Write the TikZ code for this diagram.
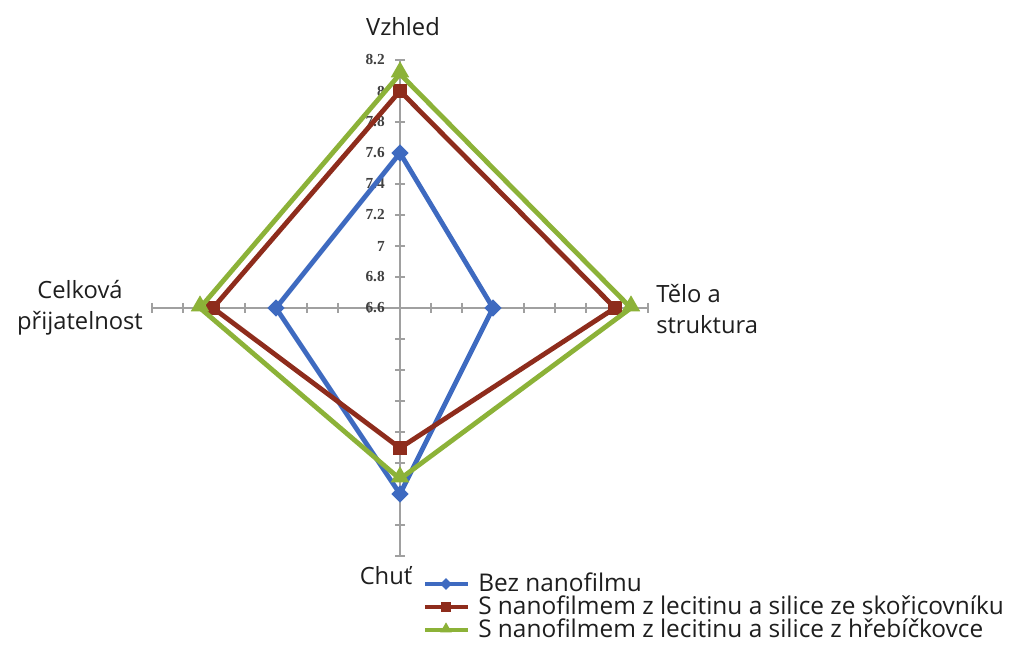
\documentclass[tikz,border=0pt]{standalone}
\usepackage{fontspec}
\setmainfont{Open Sans}
\newfontfamily\tickfont{Liberation Serif}
\usetikzlibrary{shapes.geometric,calc}
\definecolor{sblue}{RGB}{62,106,192}
\definecolor{sred}{RGB}{142,44,28}
\definecolor{sgreen}{RGB}{140,178,56}
\definecolor{axgray}{RGB}{160,160,160}
\definecolor{txt}{RGB}{30,30,30}
\tikzset{
  axisline/.style={draw=axgray, line width=1.6pt},
  tickmark/.style={draw=axgray, line width=1pt},
  ticklabel/.style={font=\tickfont\bfseries\fontsize{11.5}{13}\selectfont, text=black!75, anchor=east, inner sep=0pt},
  catlabel/.style={font=\fontsize{17.8}{23}\selectfont, text=txt, inner sep=0pt},
  series/.style={line width=3.6pt, line join=miter},
  bluemark/.style={diamond, fill=sblue, inner sep=0pt, minimum size=13pt},
  redmark/.style={rectangle, fill=sred, inner sep=0pt, minimum size=10pt},
  greenmark/.style={regular polygon, regular polygon sides=3, fill=sgreen, inner sep=0pt, minimum size=16pt},
  legtext/.style={font=\fontsize{18.3}{22}\selectfont, text=txt, anchor=west, inner sep=0pt},
  legline/.style={line width=3.6pt},
}
\begin{document}
\begin{tikzpicture}[x=0.75pt,y=-0.75pt]
\useasboundingbox (0,0) rectangle (1011,645);
\fill[white] (0,0) rectangle (1011,645);
% axes
\coordinate (C) at (400,308);
\coordinate (AT) at (400,60);
\coordinate (AB) at (400,556);
\coordinate (AL) at (152,308);
\coordinate (AR) at (648,308);
\draw[axisline] (AT) -- (AB);
\draw[axisline] (AL) -- (AR);
\foreach \i in {1,...,8}{
  \draw[tickmark] ($(C)+(-5,-31*\i)$) -- ($(C)+(5,-31*\i)$);
  \draw[tickmark] ($(C)+(-5,31*\i)$) -- ($(C)+(5,31*\i)$);
  \draw[tickmark] ($(C)+(-31*\i,-5)$) -- ($(C)+(-31*\i,5)$);
  \draw[tickmark] ($(C)+(31*\i,-5)$) -- ($(C)+(31*\i,5)$);
}
\draw[tickmark] (395,308) -- (405,308);
% tick labels
\foreach \v [count=\k from 0] in {6.6,6.8,7,7.2,7.4,7.6,7.8,8,8.2}{
  \node[ticklabel] (t\k) at (385,308-31*\k) {\v};
}
% category labels
\node[catlabel] (vz) at (403,27) {Vzhled};
\node[catlabel, align=center] (ce) at (80,308) {Celková\\přijatelnost};
\node[catlabel, align=left, anchor=west] (te) at (656,309) {Tělo a\\struktura};
\node[catlabel] (ch) at (386,576) {Chuť};
% data coordinates
\coordinate (b1) at (400,153);
\coordinate (b2) at (493,308);
\coordinate (b3) at (400,494);
\coordinate (b4) at (276,308);
\coordinate (r1) at (400,91);
\coordinate (r2) at (615,308);
\coordinate (r3) at (400,448);
\coordinate (r4) at (213,308);
\coordinate (g1) at (400,74);
\coordinate (g2) at (631,308);
\coordinate (g3) at (400,479);
\coordinate (g4) at (200,308);
% series
\draw[series, sblue] (b1) -- (b2) -- (b3) -- (b4) -- cycle;
\foreach \p in {b1,b2,b3,b4}{\node[bluemark] at (\p) {};}
\draw[series, sred] (r1) -- (r2) -- (r3) -- (r4) -- cycle;
\foreach \p in {r1,r2,r3,r4}{\node[redmark] at (\p) {};}
\draw[series, sgreen] (g1) -- (g2) -- (g3) -- (g4) -- cycle;
\foreach \p in {g1,g2,g3,g4}{\node[greenmark] at ($(\p)+(0,-2)$) {};}
% legend
\coordinate (l1a) at (425,584); \coordinate (l1b) at (468,584);
\coordinate (l2a) at (425,607); \coordinate (l2b) at (468,607);
\coordinate (l3a) at (425,630); \coordinate (l3b) at (468,630);
\draw[legline, sblue] (l1a) -- (l1b);
\node[bluemark, minimum size=9pt] (m1) at (446,584) {};
\draw[legline, sred] (l2a) -- (l2b);
\node[redmark, minimum size=8pt] (m2) at (446,607) {};
\draw[legline, sgreen] (l3a) -- (l3b);
\node[greenmark, minimum size=10pt] (m3) at (446,629) {};
\node[legtext] (L1) at (478,582) {Bez nanofilmu};
\node[legtext] (L2) at (478,605) {S nanofilmem z lecitinu a silice ze skořicovníku};
\node[legtext] (L3) at (478,628) {S nanofilmem z lecitinu a silice z hřebíčkovce};
\end{tikzpicture}
\end{document}
